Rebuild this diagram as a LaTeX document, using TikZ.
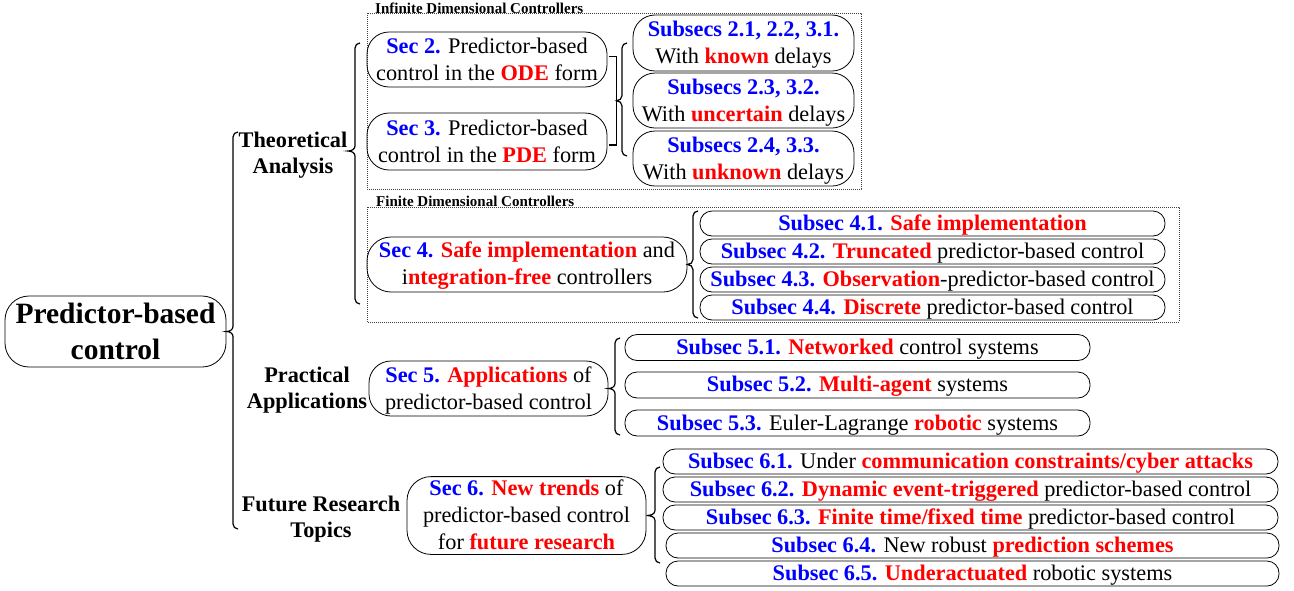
\documentclass[tikz,border=0pt]{standalone}
\usepackage{fontspec}
\setmainfont{Liberation Serif}
\usetikzlibrary{calc}
\definecolor{secblue}{RGB}{0,0,255}
\definecolor{hlred}{RGB}{255,0,0}
\newcommand{\secb}[1]{\textcolor{secblue}{\bfseries #1}}
\newcommand{\hlr}[1]{\textcolor{hlred}{\bfseries #1}}
\newcommand{\topst}{\rule{0pt}{18.9pt}}
\newcommand{\botst}{\rule[-4.9pt]{0pt}{4.9pt}}
\newcommand{\cbrace}[3]{%
  \draw[brc] ($(#2)+(5,0)$) to[out=180,in=90] ($(#2)+(0,5)$)
    -- ($(#2|-#1)+(0,-5)$) to[out=-90,in=0] (#1)
    to[out=0,in=90] ($(#2|-#1)+(0,5)$)
    -- ($(#3)+(0,-5)$) to[out=-90,in=180] ($(#3)+(5,0)$);}
\begin{document}
\begin{tikzpicture}[x=1pt,y=-1pt,
  box/.style={draw, line width=0.8pt, rounded corners=#1, inner sep=0pt, align=center,
    font=\fontsize{22.3}{27}\selectfont},
  box/.default=12,
  toplbl/.style={align=center, inner sep=0pt, font=\fontsize{22.3}{26}\selectfont\bfseries},
  grouplbl/.style={inner sep=0pt, font=\fontsize{15}{18}\selectfont\bfseries},
  dotbox/.style={draw=black!75, line width=0.6pt, dash pattern=on 0.8pt off 1.2pt},
  brc/.style={line width=1.2pt}]
\useasboundingbox (0,0) rectangle (1294,590);

% root
\node[box=24, minimum width=221, minimum height=71, font=\fontsize{29.5}{36}\selectfont\bfseries]
  (root) at (115.5,331.5) {Predictor-based\\control};

% top-level labels
\node[toplbl] (theo) at (293,155) {Theoretical\\Analysis};
\node[toplbl] (prac) at (307,390) {Practical\\Applications};
\node[toplbl] (fut) at (321,519) {Future Research\\Topics};

\coordinate (mtop) at (233,132);
\coordinate (mbot) at (233,529);
\cbrace{root.east}{mtop}{mbot}

% group frames
\draw[dotbox] (367,13) rectangle (861,189);
\draw[dotbox] (367,207) rectangle (1179,322);
\node[grouplbl, anchor=base west] (inflbl) at (375,13) {Infinite Dimensional Controllers};
\node[grouplbl, anchor=base west] (finlbl) at (376,206) {Finite Dimensional Controllers};

% theoretical brace
\coordinate (ttop) at (355,43);
\coordinate (tbot) at (355,304);
\coordinate (ttip) at (348,151);
\cbrace{ttip}{ttop}{tbot}

% Sec 2 / Sec 3
\node[box=22, minimum width=240, minimum height=55] (sec2) at (487,59.5)
  {\topst\secb{Sec 2.} Predictor-based\\control in the \hlr{ODE} form\botst};
\node[box=22, minimum width=240, minimum height=57] (sec3) at (487,141.5)
  {\topst\secb{Sec 3.} Predictor-based\\control in the \hlr{PDE} form\botst};

\coordinate (bk1) at ($(sec2.east)+(2,-3)$);
\coordinate (bk2) at ($(sec3.east)+(2,3.5)$);
\draw[brc] (bk1) -- ++(7,0) |- (bk2);
\coordinate (b23tip) at ($(bk1)!0.5!(bk2)+(7,0)$);
\coordinate (b23top) at (622,43);
\coordinate (b23bot) at (622,156);
\cbrace{b23tip}{b23top}{b23bot}

\node[box=22, minimum width=221, minimum height=56] (s1) at (743.5,43)
  {\topst\secb{Subsecs 2.1, 2.2, 3.1.}\\With \hlr{known} delays\botst};
\node[box=22, minimum width=221, minimum height=55] (s2) at (743.5,100.5)
  {\topst\secb{Subsecs 2.3, 3.2.}\\With \hlr{uncertain} delays\botst};
\node[box=22, minimum width=221, minimum height=55] (s3) at (743.5,158.5)
  {\topst\secb{Subsecs 2.4, 3.3.}\\With \hlr{unknown} delays\botst};

% Sec 4
\node[box=24, minimum width=320, minimum height=55] (sec4) at (527,264.5)
  {\topst\secb{Sec 4.} \hlr{Safe implementation} and\\i\hlr{ntegration-free} controllers\botst};
\coordinate (b4top) at (693,211);
\coordinate (b4bot) at (693,318);
\cbrace{sec4.east}{b4top}{b4bot}
\node[box, minimum width=465, minimum height=25] (s41) at (932.5,223.5)
  {\topst\secb{Subsec 4.1.} \hlr{Safe implementation}\botst};
\node[box, minimum width=465, minimum height=25] (s42) at (932.5,251.5)
  {\topst\secb{Subsec 4.2.} \hlr{Truncated} predictor-based control\botst};
\node[box, minimum width=465, minimum height=25] (s43) at (932.5,279.5)
  {\topst\secb{Subsec 4.3.} \hlr{Observation}-predictor-based control\botst};
\node[box, minimum width=465, minimum height=25] (s44) at (932.5,307.5)
  {\topst\secb{Subsec 4.4.} \hlr{Discrete} predictor-based control\botst};

% Sec 5
\node[box=22, minimum width=239, minimum height=55] (sec5) at (488.5,388.5)
  {\topst\secb{Sec 5.} \hlr{Applications} of\\predictor-based control\botst};
\coordinate (b5top) at (615,338);
\coordinate (b5bot) at (615,435);
\cbrace{sec5.east}{b5top}{b5bot}
\node[box, minimum width=465, minimum height=26] (s51) at (857.5,347.5)
  {\topst\secb{Subsec 5.1.} \hlr{Networked} control systems\botst};
\node[box, minimum width=465, minimum height=26] (s52) at (857.5,385)
  {\topst\secb{Subsec 5.2.} \hlr{Multi-agent} systems\botst};
\node[box, minimum width=465, minimum height=26] (s53) at (857.5,423)
  {\topst\secb{Subsec 5.3.} Euler-Lagrange \hlr{robotic} systems\botst};

% Sec 6
\node[box=24, minimum width=239, minimum height=77] (sec6) at (526.5,515.5)
  {\topst\secb{Sec 6.} \hlr{New trends} of\\predictor-based control\\for \hlr{future research}\botst};
\coordinate (b6top) at (655,467);
\coordinate (b6bot) at (655,563);
\cbrace{sec6.east}{b6top}{b6bot}
\node[box, minimum width=615, minimum height=25] (s61) at (970.5,461.5)
  {\topst\secb{Subsec 6.1.} Under \hlr{communication constraints/cyber attacks}\botst};
\node[box, minimum width=615, minimum height=25] (s62) at (970.5,489.5)
  {\topst\secb{Subsec 6.2.} \hlr{Dynamic event-triggered} predictor-based control\botst};
\node[box, minimum width=615, minimum height=25] (s63) at (970.5,517.5)
  {\topst\secb{Subsec 6.3.} \hlr{Finite time/fixed time} predictor-based control\botst};
\node[box, minimum width=613, minimum height=25] (s64) at (972.5,545.5)
  {\topst\secb{Subsec 6.4.} New robust \hlr{prediction schemes}\botst};
\node[box, minimum width=613, minimum height=25] (s65) at (972.5,573.5)
  {\topst\secb{Subsec 6.5.} \hlr{Underactuated} robotic systems\botst};
\end{tikzpicture}
\end{document}
